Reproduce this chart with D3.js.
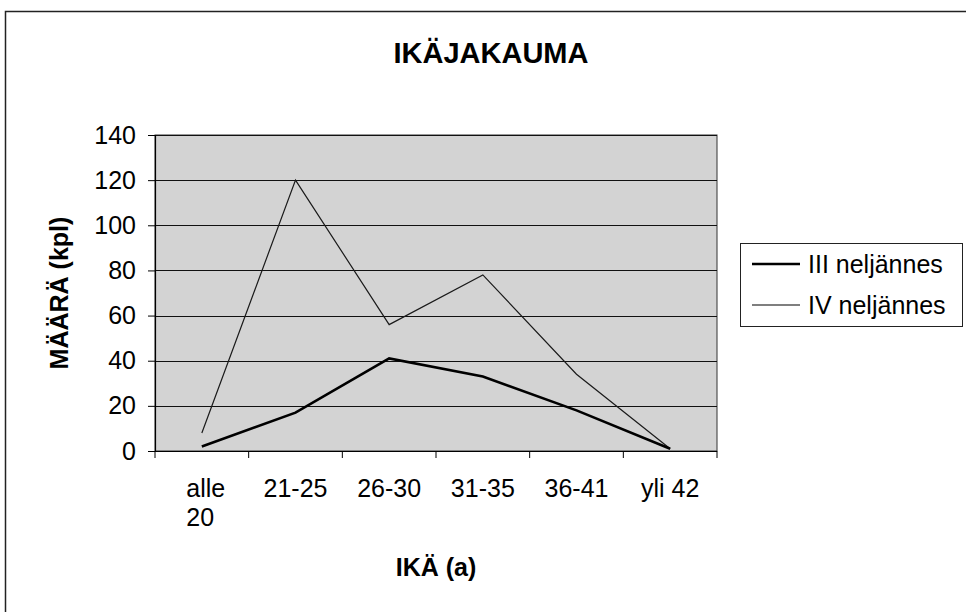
<!DOCTYPE html>
<html>
<head>
<meta charset="utf-8">
<script src="https://cdn.jsdelivr.net/npm/d3@7"></script>
<style>
  body { margin: 0; background: #fff; }
  svg { display: block; font-family: Arial, "Liberation Sans", sans-serif; }
</style>
</head>
<body>
<div id="chart"></div>
<script>
const categories = ["alle 20", "21-25", "26-30", "31-35", "36-41", "yli 42"];
const seriesNames = ["III neljännes", "IV neljännes"];
const q3Values = [2, 17, 41, 33, 18, 1];
const q4Values = [8, 120, 56, 78, 34, 1];
const yTicks = [0, 20, 40, 60, 80, 100, 120, 140];

const width = 966, height = 612;
const plot = { left: 155, top: 135, right: 717, bottom: 451 };

const svg = d3.select("#chart").append("svg")
  .attr("width", width)
  .attr("height", height);

// outer chart frame (left + top edges visible in the scan)
svg.append("path")
  .attr("d", `M5.5,${height} V11.5 H${width}`)
  .attr("fill", "none")
  .attr("stroke", "#222")
  .attr("stroke-width", 1.5);

var x = d3.scaleBand().domain(categories).range([plot.left, plot.right]).padding(0);
var y = d3.scaleLinear().domain([0, 140]).range([plot.bottom, plot.top]);

// plot area background
svg.append("rect")
  .attr("x", plot.left)
  .attr("y", plot.top)
  .attr("width", plot.right - plot.left)
  .attr("height", plot.bottom - plot.top)
  .attr("fill", "#d3d3d3")
  .attr("stroke", "#333")
  .attr("stroke-width", 1);

// gridlines
svg.append("g")
  .selectAll("line")
  .data(yTicks.filter(d => d > 0))
  .enter()
  .append("line")
  .attr("x1", plot.left)
  .attr("x2", plot.right)
  .attr("y1", d => Math.round(y(d)) + 0.5)
  .attr("y2", d => Math.round(y(d)) + 0.5)
  .attr("stroke", "#111")
  .attr("stroke-width", 1);

// y axis
var yAxis = svg.append("g")
  .attr("transform", `translate(${plot.left},0)`)
  .call(d3.axisLeft(y).tickValues(yTicks).tickSize(7).tickPadding(12));
yAxis.select(".domain").attr("stroke", "#000").attr("stroke-width", 1.2);
yAxis.selectAll(".tick line").attr("stroke", "#000");
yAxis.selectAll(".tick text")
  .attr("font-size", 25)
  .attr("font-family", "Arial, 'Liberation Sans', sans-serif")
  .attr("fill", "#000");

// x axis line + boundary ticks
svg.append("line")
  .attr("x1", plot.left).attr("x2", plot.right)
  .attr("y1", plot.bottom + 0.5).attr("y2", plot.bottom + 0.5)
  .attr("stroke", "#000").attr("stroke-width", 1.2);

var bounds = categories.map(c => x(c)).concat([x.range()[1]]);
svg.append("g")
  .selectAll("line")
  .data(bounds)
  .enter()
  .append("line")
  .attr("x1", d => d).attr("x2", d => d)
  .attr("y1", plot.bottom).attr("y2", plot.bottom + 7)
  .attr("stroke", "#000");

// x labels (wrap words like Excel for the first one)
var xLabels = svg.append("g").attr("font-size", 25).attr("fill", "#000");
categories.forEach(function (c) {
  var cx = x(c) + x.bandwidth() / 2;
  if (c === "alle 20") {
    var parts = c.split(" ");
    var t = xLabels.append("text").attr("y", 497).attr("text-anchor", "start").text(parts[0]);
    var w = t.node().getComputedTextLength();
    var left = cx - w / 2 + 4;
    t.attr("x", left);
    xLabels.append("text").attr("x", left).attr("y", 526).text(parts[1]);
  } else {
    xLabels.append("text")
      .attr("x", cx)
      .attr("y", 497)
      .attr("text-anchor", "middle")
      .text(c);
  }
});

// lines
var line = d3.line()
  .x((d, i) => x(categories[i]) + x.bandwidth() / 2)
  .y(d => y(d));

svg.append("path")
  .datum(q4Values)
  .attr("d", line)
  .attr("fill", "none")
  .attr("stroke", "#1a1a1a")
  .attr("stroke-width", 1.2);

svg.append("path")
  .datum(q3Values)
  .attr("d", line)
  .attr("fill", "none")
  .attr("stroke", "#000")
  .attr("stroke-width", 2.6);

// titles
svg.append("text")
  .attr("x", 491)
  .attr("y", 63)
  .attr("text-anchor", "middle")
  .attr("font-size", 29)
  .attr("font-weight", "bold")
  .text("IKÄJAKAUMA");

svg.append("text")
  .attr("transform", "translate(68,293) rotate(-90)")
  .attr("text-anchor", "middle")
  .attr("font-size", 25)
  .attr("font-weight", "bold")
  .text("MÄÄRÄ (kpl)");

svg.append("text")
  .attr("x", (plot.left + plot.right) / 2)
  .attr("y", 576)
  .attr("text-anchor", "middle")
  .attr("font-size", 25)
  .attr("font-weight", "bold")
  .text("IKÄ (a)");

// legend
var legend = svg.append("g");
legend.append("rect")
  .attr("x", 740.5).attr("y", 243.5)
  .attr("width", 222).attr("height", 83)
  .attr("fill", "#fff")
  .attr("stroke", "#222");

var legendRows = [
  { name: seriesNames[0], w: 2.6, y: 264 },
  { name: seriesNames[1], w: 1.2, y: 305 }
];
legendRows.forEach(function (r) {
  legend.append("line")
    .attr("x1", 752).attr("x2", 800)
    .attr("y1", r.y).attr("y2", r.y)
    .attr("stroke", "#000")
    .attr("stroke-width", r.w);
  legend.append("text")
    .attr("x", 808)
    .attr("y", r.y + 9)
    .attr("font-size", 25)
    .text(r.name);
});
</script>
</body>
</html>
